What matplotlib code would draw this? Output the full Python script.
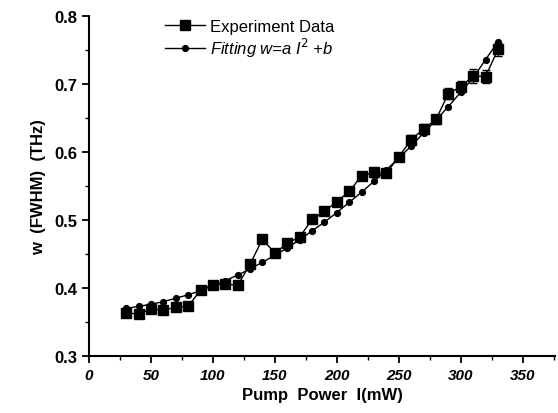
import numpy as np
import matplotlib.pyplot as plt
from matplotlib.ticker import MultipleLocator
from matplotlib.lines import Line2D

# pump power (mW)
power = [30, 40, 50, 60, 70, 80, 90, 100, 110, 120, 130, 140, 150, 160, 170,
         180, 190, 200, 210, 220, 230, 240, 250, 260, 270, 280, 290, 300,
         310, 320, 330]

# measured linewidth (THz)
w_exp = [0.363, 0.362, 0.369, 0.367, 0.372, 0.373, 0.397, 0.405, 0.406, 0.404,
         0.435, 0.472, 0.451, 0.466, 0.475, 0.501, 0.513, 0.527, 0.542, 0.565,
         0.570, 0.569, 0.593, 0.618, 0.634, 0.648, 0.686, 0.696, 0.712, 0.711,
         0.751]
w_err = [0, 0, 0, 0, 0, 0, 0, 0, 0, 0, 0, 0, 0, 0, 0, 0, 0, 0.004, 0.005,
         0.005, 0.006, 0.006, 0.006, 0.007, 0.007, 0.007, 0.008, 0.008,
         0.010, 0.010, 0.010]

# fitted curve points
w_fit = [0.370, 0.373, 0.376, 0.380, 0.385, 0.390, 0.396, 0.403, 0.411, 0.419,
         0.428, 0.438, 0.448, 0.459, 0.471, 0.484, 0.497, 0.511, 0.526, 0.541,
         0.557, 0.574, 0.591, 0.609, 0.628, 0.647, 0.667, 0.688, 0.709, 0.736,
         0.762]

plt.rcParams['font.family'] = ['Liberation Sans', 'DejaVu Sans']

fig = plt.figure(figsize=(5.58, 4.14), dpi=100)
ax = fig.add_axes([0.1595, 0.1377, 0.835, 0.821])

ax.errorbar(power, w_exp, yerr=w_err, color='black', marker='s', ms=6.5,
            lw=1.0, elinewidth=0.8, capsize=3, zorder=3)
ax.plot(power, w_fit, color='black', marker='o', ms=4.2, lw=1.0, zorder=4)

ax.set_xlim(0, 376)
ax.set_ylim(0.3, 0.8)
ax.xaxis.set_major_locator(MultipleLocator(50))
ax.xaxis.set_minor_locator(MultipleLocator(25))
ax.yaxis.set_major_locator(MultipleLocator(0.1))
ax.yaxis.set_minor_locator(MultipleLocator(0.05))

for s in ['top', 'right']:
    ax.spines[s].set_visible(False)
for s in ['left', 'bottom']:
    ax.spines[s].set_linewidth(1.5)
ax.tick_params(which='major', direction='out', length=5, width=1.3)
ax.tick_params(which='minor', direction='out', length=3, width=1.0)

for lab in ax.get_xticklabels():
    lab.set_fontweight('bold')
    lab.set_fontstyle('italic')
    lab.set_fontsize(11)
for lab in ax.get_yticklabels():
    lab.set_fontweight('bold')
    lab.set_fontsize(12)

ax.set_xlabel('Pump  Power  I(mW)', fontsize=12, fontweight='bold', labelpad=4)
ax.set_ylabel('w  (FWHM)  (THz)', fontsize=12, fontweight='bold', labelpad=6)

handles = [Line2D([], [], color='black', marker='s', ms=6.5, lw=1.0),
           Line2D([], [], color='black', marker='o', ms=4.2, lw=1.0)]
labels = ['Experiment Data', 'Fitting w=a I$^2$ +b']
leg = ax.legend(handles, labels, loc='upper left', bbox_to_anchor=(0.13, 1.035),
                frameon=False, fontsize=12, handlelength=2.4,
                handletextpad=0.3, labelspacing=0.1)
leg.get_texts()[1].set_fontstyle('italic')

fig.savefig('out.png', dpi=100)
